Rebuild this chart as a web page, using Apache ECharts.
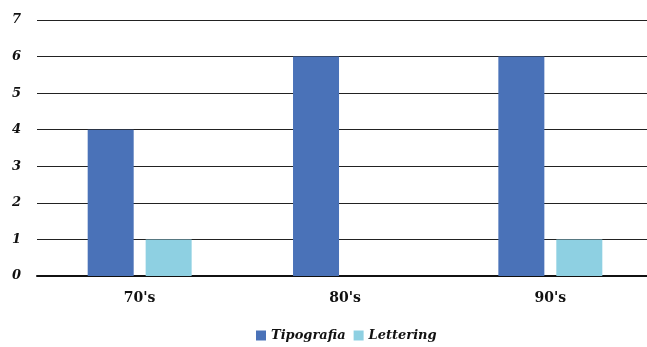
<!DOCTYPE html>
<html>
<head>
<meta charset="utf-8">
<script src="https://cdn.jsdelivr.net/npm/echarts@6/dist/echarts.min.js"></script>
<style>
  html, body { margin: 0; padding: 0; background: #fff; overflow: hidden; }
  #chart { width: 660px; height: 347px; }
</style>
</head>
<body>
<div id="chart"></div>
<script>
// decades on the x axis
const decades = ["70's", "80's", "90's"];
const tipografia = [4, 6, 6];
const lettering = [1, 0, 1];
const yTicks = [0, 1, 2, 3, 4, 5, 6, 7];

const font = '"DejaVu Serif", serif';

const chart = echarts.init(document.getElementById('chart'));

const option = {
    animation: false,
    grid: {
        left: 37,
        top: 20,
        width: 616,
        height: 256,
        containLabel: false
    },
    legend: {
        top: 329,
        left: 256,
        padding: 0,
        itemWidth: 10,
        itemHeight: 10,
        itemGap: 8,
        icon: 'rect',
        textStyle: {
            fontFamily: font,
            fontStyle: 'italic',
            fontWeight: 'bold',
            fontSize: 13,
            color: '#111'
        },
        data: ['Tipografia', 'Lettering']
    },
    xAxis: {
        type: 'category',
        data: decades,
        axisLine: { show: true, lineStyle: { color: '#111', width: 2 } },
        axisTick: { show: false },
        axisLabel: {
            margin: 15,
            fontFamily: font,
            fontWeight: 'bold',
            fontSize: 14,
            color: '#111'
        }
    },
    yAxis: {
        type: 'value',
        min: 0,
        max: 7,
        interval: 1,
        axisLine: { show: false },
        axisTick: { show: false },
        axisLabel: {
            margin: 16,
            fontFamily: font,
            fontStyle: 'italic',
            fontWeight: 'bold',
            fontSize: 13,
            color: '#111',
            formatter: (v) => yTicks.includes(v) ? String(v) : ''
        },
        splitLine: { lineStyle: { color: '#222', width: 1 } }
    },
    series: [
        {
            name: 'Tipografia',
            type: 'bar',
            data: tipografia,
            barWidth: 46,
            barGap: '26%',
            itemStyle: { color: '#4a72b8' }
        },
        {
            name: 'Lettering',
            type: 'bar',
            data: lettering,
            barWidth: 46,
            itemStyle: { color: '#8ed0e2' }
        }
    ]
};

chart.setOption(option);
</script>
</body>
</html>
